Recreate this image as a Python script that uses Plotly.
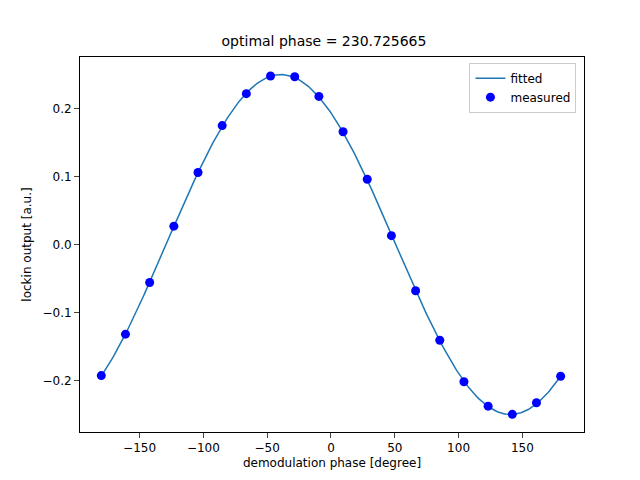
import numpy as np
import plotly.graph_objects as go

phase = np.linspace(-180, 180, 20)
output = [-0.193, -0.132, -0.056, 0.027, 0.106, 0.175, 0.222, 0.248, 0.247, 0.218,
          0.166, 0.096, 0.013, -0.068, -0.141, -0.202, -0.238, -0.250, -0.233, -0.194]
err = [0.002] * 20

amp = 0.2502  # fit result
opt = 230.725665
x_fit = np.linspace(-180, 180, 361)
y_fit = amp * np.sin(np.radians(x_fit - opt))

fig = go.Figure()
fig.add_trace(go.Scatter(x=x_fit, y=y_fit, mode='lines', name='fitted',
                         line=dict(color='#1f77b4', width=1.5)))
fig.add_trace(go.Scatter(x=phase, y=output, mode='markers', name='measured',
                         marker=dict(color='blue', size=9),
                         error_y=dict(type='data', array=err, color='blue', thickness=1.5, width=0)))

ax = dict(showline=True, linecolor='black', mirror=True, ticks='outside', showgrid=False,
          zeroline=False, tickfont=dict(size=12, color='black'))
fig.update_layout(width=632, height=472, plot_bgcolor='white', paper_bgcolor='white',
                  font=dict(family='DejaVu Sans', size=12, color='black'),
                  margin=dict(l=72, r=56, t=49, b=45),  # page body adds 8px
                  title=dict(text='optimal phase = 230.725665', x=0.5, xanchor='center',
                             y=0.94, font=dict(size=14)),
                  xaxis=dict(ax, range=[-196.7, 198.3], tickvals=[-150, -100, -50, 0, 50, 100, 150],
                             title=dict(text='demodulation phase [degree]', standoff=4,
                                        font=dict(size=12))),
                  yaxis=dict(ax, range=[-0.276, 0.276], tickvals=[-0.2, -0.1, 0, 0.1, 0.2],
                             tickformat='.1f', title=dict(text='lockin output [a.u.]', standoff=8,
                                                          font=dict(size=12))),
                  legend=dict(x=0.985, y=0.985, xanchor='right', yanchor='top',
                              bordercolor='#cccccc', borderwidth=1, bgcolor='white'))

fig.write_html("out.html")
